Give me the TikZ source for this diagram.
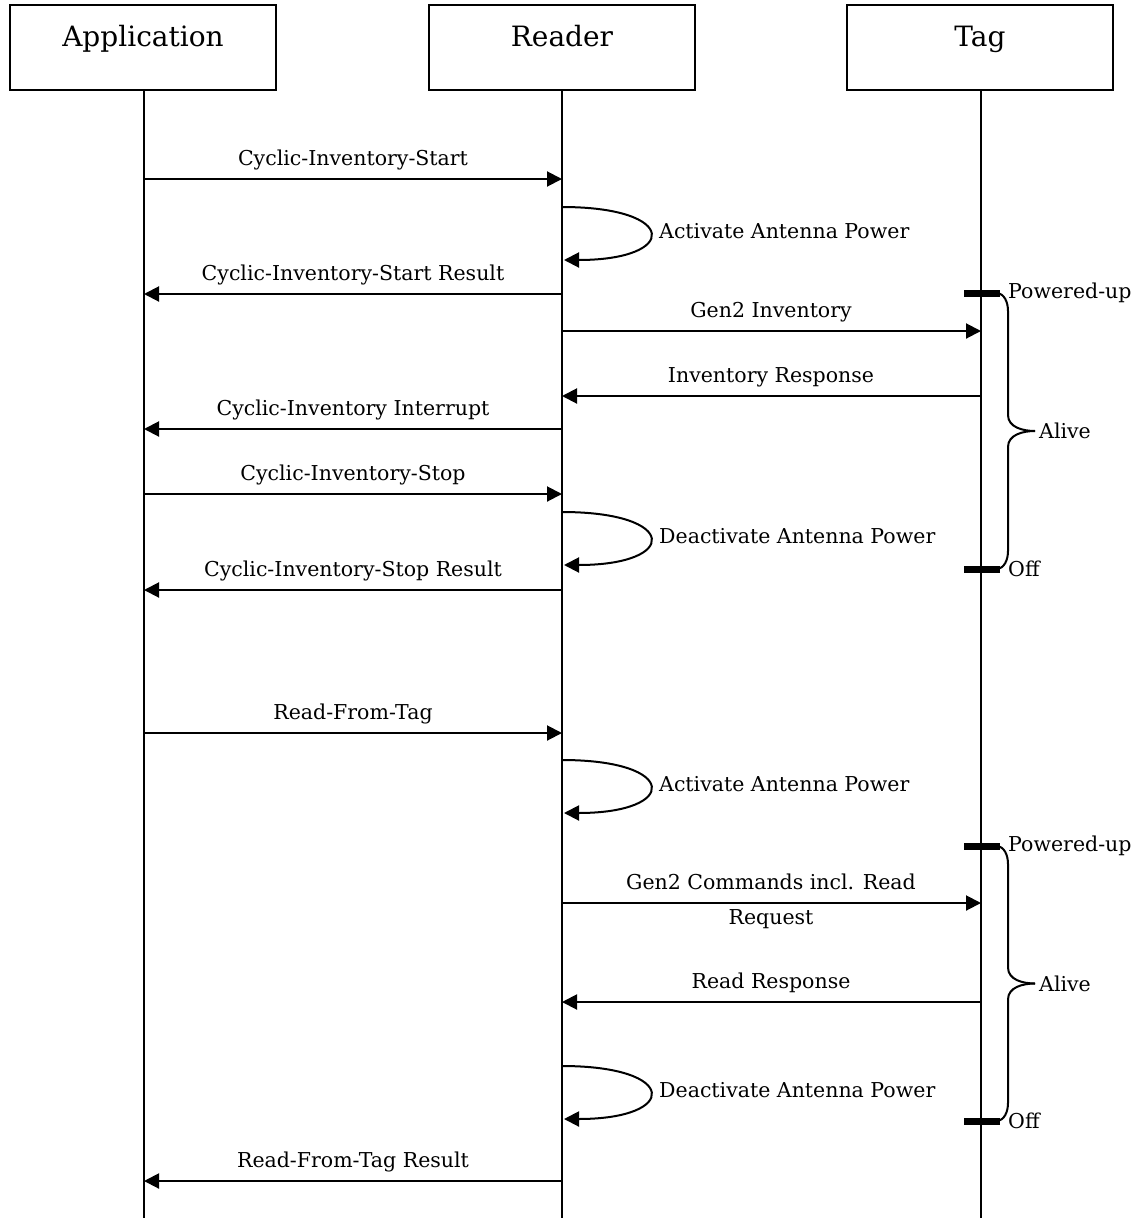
\documentclass[tikz,border=0pt]{standalone}
\usepackage{fontspec}
\setmainfont{DejaVu Serif}
\usetikzlibrary{arrows.meta}
\begin{document}
\begin{tikzpicture}[x=1pt,y=-1pt,
  hdr/.style={draw,line width=1.4pt,minimum width=266pt,minimum height=85pt},
  htxt/.style={font=\fontsize{28}{32}\selectfont,anchor=base,inner sep=0pt},
  life/.style={line width=1.4pt},
  msg/.style={line width=2pt,-{Triangle[length=15pt,width=15pt]}},
  lbl/.style={font=\fontsize{20.5}{24}\selectfont,inner sep=0pt},
  bar/.style={line width=7pt},
  brc/.style={line width=2pt}]
\useasboundingbox (0,0) rectangle (1139,1218);
% headers
\node[hdr] (appbox) at (143,47.5) {};
\node[hdr] (rdrbox) at (562,47.5) {};
\node[hdr] (tagbox) at (980,47.5) {};
\node[htxt] at (143,46) {Application};
\node[htxt] at (562,46) {Reader};
\node[htxt] at (980,46) {Tag};
% lifelines
\coordinate (app) at (144,1218);
\coordinate (rdr) at (562,1218);
\coordinate (tag) at (981,1218);
\draw[life] (appbox.south -| app) -- (app);
\draw[life] (rdrbox.south -| rdr) -- (rdr);
\draw[life] (tagbox.south -| tag) -- (tag);
% messages
\newcommand{\msgAR}[3]{% y, label, dir
  \coordinate (m1) at (144,#1); \coordinate (m2) at (562,#1);
  \ifnum#3=1 \draw[msg] (m1) -- (m2); \else \draw[msg] (m2) -- (m1); \fi
  \node[lbl,anchor=base] at (353,#1-14) {#2};}
\newcommand{\msgRT}[3]{%
  \coordinate (m1) at (562,#1); \coordinate (m2) at (981,#1);
  \ifnum#3=1 \draw[msg] (m1) -- (m2); \else \draw[msg] (m2) -- (m1); \fi
  \node[lbl,anchor=base] at (771,#1-14) {#2};}
\newcommand{\selfloop}[2]{%
  \coordinate (s1) at (562,#1); \coordinate (s2) at (564,#1+53);
  \draw[msg] (s1) .. controls (679,#1) and (679,#1+53) .. (s2);
  \node[lbl,anchor=west] at (659,#1+24) {#2};}
\newcommand{\alive}[2]{%
  \coordinate (b1) at (981,#1); \coordinate (b2) at (981,#2);
  \draw[bar] ([xshift=-17pt]b1) -- ([xshift=19pt]b1);
  \draw[bar] ([xshift=-17pt]b2) -- ([xshift=19pt]b2);
  \node[lbl,anchor=west] at (1008,#1) {Powered-up};
  \node[lbl,anchor=west] at (1008,#2) {Off};
  \coordinate (bt) at (1035,{(#1+#2)/2});
  \draw[brc] ([xshift=15pt]b1) to[out=0,in=90] (1008,#1+18) -- (1008,{(#1+#2)/2-16})
     to[out=-90,in=180] (bt);
  \draw[brc] ([xshift=15pt]b2) to[out=0,in=-90] (1008,#2-18) -- (1008,{(#1+#2)/2+16})
     to[out=90,in=180] (bt);
  \node[lbl,anchor=west] at (1039,{(#1+#2)/2}) {Alive};}
\msgAR{179}{Cyclic-Inventory-Start}{1}
\selfloop{207}{Activate Antenna Power}
\msgAR{294}{Cyclic-Inventory-Start Result}{0}
\alive{293}{569}
\msgRT{331}{Gen2 Inventory}{1}
\msgRT{396}{Inventory Response}{0}
\msgAR{429}{Cyclic-Inventory Interrupt}{0}
\msgAR{494}{Cyclic-Inventory-Stop}{1}
\selfloop{512}{Deactivate Antenna Power}
\msgAR{590}{Cyclic-Inventory-Stop Result}{0}
\msgAR{733}{Read-From-Tag}{1}
\selfloop{760}{Activate Antenna Power}
\alive{846}{1121}
\msgRT{903}{Gen2 Commands incl. Read}{1}
\node[lbl,anchor=base] at (771,924) {Request};
\msgRT{1002}{Read Response}{0}
\selfloop{1066}{Deactivate Antenna Power}
\msgAR{1181}{Read-From-Tag Result}{0}
\end{tikzpicture}
\end{document}
